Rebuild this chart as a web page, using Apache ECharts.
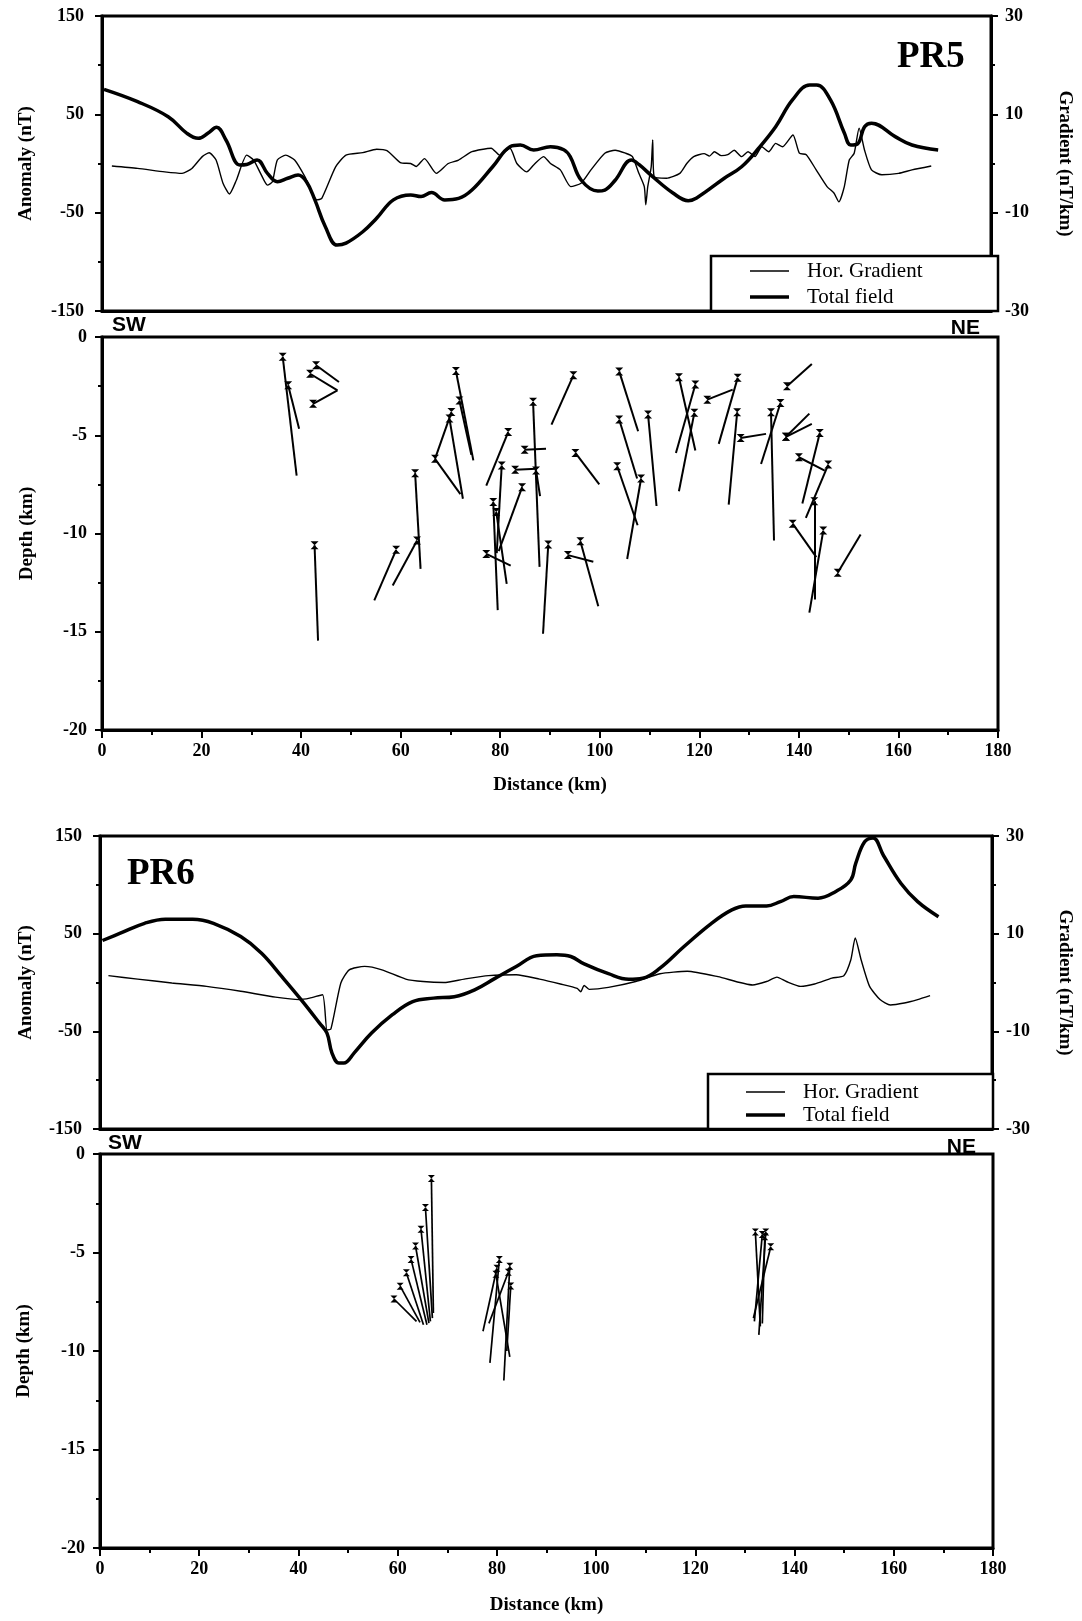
<!DOCTYPE html>
<html>
<head>
<meta charset="utf-8">
<script src="https://cdn.jsdelivr.net/npm/echarts@6/dist/echarts.min.js"></script>
<style>
html,body{margin:0;padding:0;background:#fff;}
#chart{width:1082px;height:1621px;}
</style>
</head>
<body>
<div id="chart"></div>
<script>
// ---------- DATA ----------
const distanceRange = [0, 180];
const distanceTickStep = 20;
const anomalyRange = [-150, 150];
const anomalyTickStep = 100;
const gradientRange = [-30, 30];
const gradientTickStep = 20;
const depthRange = [-20, 0];
const depthTickStep = 5;

const legendNames = ['Hor. Gradient', 'Total field'];
const profileNames = ['PR5', 'PR6'];

// PR5 total field [km, nT]
const pr5TotalField = [[0.4,75.4],[7.2,62.9],[13.4,47.6],[17.2,30.7],[19.5,25.6],[21.5,31],[23.2,36.8],[25.1,23.9],[27.9,-1.5],[29.3,-1],[31.4,3.6],[33.5,-10],[35.5,-18.5],[37.6,-15],[39.7,-11.7],[41.4,-18.5],[43.1,-37],[45.2,-64],[47.6,-83],[49.4,-81],[52.8,-69.4],[55.6,-55.7],[59,-37],[62.5,-32],[64.6,-33.6],[66.7,-29.6],[69.4,-37],[72.2,-35.5],[74.9,-27],[79.1,-3.3],[82.6,17],[84.7,18.8],[87.4,13.7],[90.8,17],[93.5,14],[94.8,7],[97,-16.8],[100.4,-28],[101.8,-27],[103.9,-17],[107.2,3.6],[108.7,-1],[111.5,-13.4],[115.6,-30],[118.7,-37.8],[120.4,-35],[126,-15],[129.5,-3.3],[133,15.8],[136.4,37.4],[139.8,64.6],[143.3,79.8],[144.7,79.8],[147.5,64.6],[150.3,31],[151.6,18.8],[153,20],[154.4,37.4],[155.8,41],[160.6,27.3],[164,18.8],[169.3,13.7]];

// PR5 horizontal gradient [km, nT/km]
const pr5Gradient = [[2,-0.5],[7.2,-1],[12.7,-1.7],[16.2,-2],[18.2,-1],[20.3,1.4],[21.7,2.2],[23.1,0.7],[24.5,-4],[25.8,-6.2],[27.2,-3.4],[29.3,1.7],[30.7,0.7],[32.1,-2],[33.5,-4.4],[34.5,-3.7],[35.5,0.7],[37.2,1.7],[39,0.7],[41.1,-2.7],[43.5,-7.4],[44.5,-7.1],[47.3,-0.7],[49.4,1.7],[52.8,2.2],[55.6,2.9],[57.7,2.6],[60.4,0.2],[62.5,0],[63.6,-0.6],[65.3,1],[67.7,-2],[70.1,0],[72.2,0.7],[74.9,2.4],[78.8,3.1],[80.5,1.7],[82.6,3.1],[84,0],[86,-1.7],[87.4,-0.3],[89.4,1.4],[90.8,0],[92.8,-1.3],[94.9,-4.7],[97,-4],[99,-1.3],[101.8,2.1],[103.9,2.7],[106,2.1],[107.4,1.4],[108.7,-2],[109.8,-4.7],[110.1,-8.4],[110.5,-4.7],[111.2,-0.7],[111.5,4.8],[111.8,-2.7],[114.3,-3],[117,-2],[118.4,0],[119.8,1.4],[121.9,2],[123,1.5],[124,2.4],[125.4,1.6],[126.7,1.8],[128,2.7],[129.5,1.4],[130.8,2.4],[132.2,1.4],[133.6,3.4],[135,2.4],[136.4,4.1],[137.8,3.4],[139.9,5.8],[141.2,2.1],[142.6,1.8],[144.6,-1.3],[146.8,-4.7],[148.2,-6],[149.2,-7.8],[150.3,-4.7],[151.3,0.7],[152.3,2.1],[153.3,7.2],[154.4,2.7],[155.8,-1.3],[157.9,-2.3],[161.3,-2],[164,-1.3],[167.9,-0.5]];

// PR5 Euler solutions: marker (top) point and line end point [km, depth km]
const pr5SolutionTops = [[36.3,-1.0],[37.4,-2.46],[43.0,-1.44],[41.8,-1.87],[42.4,-3.4],[42.7,-10.6],[59.1,-10.83],[63.3,-10.36],[62.9,-6.93],[71.1,-1.73],[71.8,-3.23],[70.2,-3.82],[66.9,-6.2],[69.8,-4.15],[81.6,-4.84],[80.3,-6.54],[78.6,-8.4],[79.2,-8.9],[84.4,-7.64],[77.2,-11.04],[83.0,-6.76],[84.9,-5.74],[86.6,-3.3],[87.2,-6.8],[89.65,-10.56],[94.7,-1.95],[103.9,-1.75],[95.1,-5.9],[103.9,-4.2],[108.3,-7.2],[109.7,-3.95],[103.5,-6.58],[93.6,-11.1],[96.1,-10.39],[115.9,-2.05],[119.2,-2.42],[119.0,-3.86],[127.7,-2.08],[121.6,-3.19],[127.6,-3.83],[128.3,-5.14],[134.4,-3.83],[136.3,-3.36],[137.6,-2.51],[137.4,-5.08],[137.4,-5.08],[144.2,-4.88],[140.0,-6.12],[145.9,-6.49],[143.1,-8.36],[138.75,-9.5],[144.9,-9.85],[147.8,-12.0]];
const pr5SolutionEnds = [[39.1,-7.05],[39.6,-4.67],[47.6,-2.29],[47.3,-2.72],[47.3,-2.72],[43.4,-15.45],[54.7,-13.4],[58.4,-12.65],[64.0,-11.8],[74.6,-6.28],[74.2,-6.0],[66.9,-6.2],[72.0,-8.0],[72.5,-8.23],[77.2,-7.56],[79.3,-11.0],[79.5,-13.9],[81.3,-12.56],[79.7,-10.9],[82.1,-11.63],[87.3,-6.7],[89.2,-5.69],[87.9,-11.7],[88.0,-8.1],[88.6,-15.1],[90.3,-4.46],[107.7,-4.8],[99.9,-7.5],[107.5,-7.2],[105.5,-11.3],[111.4,-8.6],[107.6,-9.58],[98.7,-11.44],[99.7,-13.7],[119.2,-5.78],[115.3,-5.9],[115.9,-7.85],[123.9,-5.44],[126.7,-2.68],[125.9,-8.53],[133.4,-4.93],[135.0,-10.36],[132.4,-6.46],[142.6,-1.37],[142.1,-3.9],[142.6,-4.42],[140.7,-8.47],[145.2,-6.8],[141.4,-9.2],[143.1,-13.36],[143.5,-11.2],[142.1,-14.03],[152.4,-10.05]];

// PR6 total field [km, nT]
const pr6TotalField = [[0.5,43],[4.1,50.5],[9,60.6],[13.2,64.8],[18.7,64.8],[22.9,60.6],[28.4,47],[32.6,30],[36.7,6],[40.9,-19.5],[44.3,-41.6],[45.8,-51.8],[46.8,-72],[48.2,-82.4],[49.2,-82.4],[51.3,-72],[54.8,-51.8],[59,-33],[63.1,-19.5],[67.3,-16],[71.5,-14.5],[75.6,-7.5],[79.8,4.5],[84,16.3],[88.1,27.3],[92.2,28.3],[95,26.6],[97.7,19],[102.6,9],[106.7,3.4],[109.5,4.4],[113,14.7],[117.8,36.6],[123.4,60.6],[127.5,74.3],[130.3,78.4],[134.5,78.4],[137.3,82.8],[140,88],[144.9,86.3],[148.4,93],[151.5,105],[152.5,122],[154.3,144],[156,148],[158.1,130],[161.6,101.6],[165,82.8],[169.2,67.4]];

// PR6 horizontal gradient [km, nT/km]
const pr6Gradient = [[1.7,1.4],[7.6,0.7],[14.5,-0.1],[21.5,-0.8],[28.4,-1.8],[35.4,-3],[40.2,-3.5],[42.3,-3.2],[44.9,-2.5],[45.8,-9.7],[46.6,-9.5],[48.6,-0.1],[50.3,2.6],[53.4,3.3],[56.9,2.6],[61.7,0.7],[65.2,0.2],[69.4,0],[73.5,0.7],[78.4,1.4],[84,1.6],[88.7,0.7],[92.9,-0.3],[96.3,-1.2],[97,-1.9],[97.7,-0.6],[98.7,-1.4],[102.6,-1],[108.1,0.2],[113,1.8],[118.5,2.3],[124.7,1.2],[131.7,-0.5],[134.5,0.2],[136.6,1.1],[138.5,0.2],[141.4,-0.8],[144.2,-0.3],[147.7,0.9],[150.1,1.4],[151.5,4.6],[152.4,9.1],[153.6,4.6],[155.3,-0.8],[157.4,-3.5],[159.5,-4.6],[162.3,-4.2],[165,-3.5],[167.5,-2.7]];

// PR6 Euler solutions
const pr6SolutionTops = [[66.8,-1.24],[65.6,-2.72],[64.7,-3.82],[63.6,-4.67],[62.7,-5.35],[61.75,-6.03],[60.5,-6.71],[59.25,-7.36],[80.5,-5.35],[80.0,-5.8],[79.8,-6.1],[82.6,-5.7],[82.3,-6.0],[82.8,-6.7],[132.1,-3.96],[133.5,-4.08],[134.2,-3.96],[135.2,-4.71],[134.0,-4.2]];
const pr6SolutionEnds = [[67.2,-8.07],[67.0,-8.33],[66.6,-8.5],[66.3,-8.58],[65.9,-8.67],[65.2,-8.67],[64.5,-8.55],[63.8,-8.5],[78.6,-10.6],[77.2,-9.0],[82.6,-10.3],[81.4,-11.5],[78.4,-8.6],[82.0,-10.0],[133.1,-8.75],[131.9,-8.5],[132.8,-9.18],[131.7,-8.33],[133.5,-8.6]];

// ---------- STYLE ----------
const SERIF = 'Liberation Serif';
const SANS = 'Liberation Sans';
const BLACK = '#000';
const HOURGLASS = 'path://M0,0L10,0L0,10L10,10Z';

const gridsPx = [
  {left:102, right:84, top:16, height:295},
  {left:102, right:84, top:337, height:393},
  {left:100, right:89, top:836, height:293},
  {left:100, right:89, top:1154, height:394}
];

function tickLabelStyle(){
  return {color:BLACK, fontFamily:SERIF, fontWeight:'bold', fontSize:18};
}
function nameStyle(){
  return {color:BLACK, fontFamily:SERIF, fontWeight:'bold', fontSize:19};
}
function anomalyXAxis(gi){
  return {type:'value', gridIndex:gi, min:distanceRange[0], max:distanceRange[1],
    axisLine:{show:true, onZero:false, lineStyle:{color:BLACK, width:3}},
    axisTick:{show:false}, axisLabel:{show:false}, splitLine:{show:false}};
}
function depthXAxis(gi, gap){
  return {type:'value', gridIndex:gi, min:distanceRange[0], max:distanceRange[1], interval:distanceTickStep,
    name:'Distance (km)', nameLocation:'middle', nameGap:gap, nameTextStyle:nameStyle(),
    axisLine:{show:true, onZero:false, lineStyle:{color:BLACK, width:3}},
    axisTick:{show:true, inside:false, length:8, lineStyle:{color:BLACK, width:2}},
    minorTick:{show:true, splitNumber:2, length:5, lineStyle:{color:BLACK, width:2}},
    axisLabel:Object.assign({margin:12}, tickLabelStyle()),
    splitLine:{show:false}, minorSplitLine:{show:false}};
}
function yAxisDef(gi, range, step, pos, name, gap, rot, margin){
  return {type:'value', gridIndex:gi, position:pos, min:range[0], max:range[1], interval:step,
    name:name, nameLocation:'middle', nameGap:gap, nameRotate:rot, nameTextStyle:nameStyle(),
    axisLine:{show:true, onZero:false, lineStyle:{color:BLACK, width:3}},
    axisTick:{show:true, inside:false, length:7, lineStyle:{color:BLACK, width:2}},
    minorTick:{show:true, splitNumber:2, length:4, lineStyle:{color:BLACK, width:2}},
    axisLabel:Object.assign({margin:margin}, tickLabelStyle()),
    splitLine:{show:false}, minorSplitLine:{show:false}};
}

function segmentData(tops, ends){
  return tops.map((t,i)=>({coords:[t, ends[i]]}));
}

function legendGraphics(box, yThin, yThick, x1, x2, tx){
  return [
    {type:'rect', z:100, shape:{x:box[0], y:box[1], width:box[2], height:box[3]},
      style:{fill:'#fff', stroke:BLACK, lineWidth:2.5}},
    {type:'line', z:101, shape:{x1:x1, y1:yThin, x2:x2, y2:yThin}, style:{stroke:BLACK, lineWidth:1.3}},
    {type:'line', z:101, shape:{x1:x1, y1:yThick, x2:x2, y2:yThick}, style:{stroke:BLACK, lineWidth:3.5}},
    {type:'text', z:101, x:tx, y:yThin, style:{text:legendNames[0], font:'21px "'+SERIF+'"', fill:BLACK, align:'left', verticalAlign:'middle'}},
    {type:'text', z:101, x:tx, y:yThick, style:{text:legendNames[1], font:'21px "'+SERIF+'"', fill:BLACK, align:'left', verticalAlign:'middle'}}
  ];
}
function txt(t, x, y, font, align){
  return {type:'text', z:101, x:x, y:y, style:{text:t, font:font, fill:BLACK, align:align||'left', verticalAlign:'middle'}};
}

const chart = echarts.init(document.getElementById('chart'), null, {renderer:'canvas'});
const option = {
  animation:false,
  backgroundColor:'#fff',
  grid: gridsPx.map(g=>Object.assign({show:true, borderColor:BLACK, borderWidth:3, backgroundColor:'transparent'}, g)),
  xAxis:[anomalyXAxis(0), depthXAxis(1, 46), anomalyXAxis(2), depthXAxis(3, 48)],
  yAxis:[
    yAxisDef(0, anomalyRange, anomalyTickStep, 'left', 'Anomaly (nT)', 66, 90, 18),
    yAxisDef(0, gradientRange, gradientTickStep, 'right', 'Gradient (nT/km)', 64, -90, 14),
    yAxisDef(1, depthRange, depthTickStep, 'left', 'Depth (km)', 65, 90, 15),
    yAxisDef(2, anomalyRange, anomalyTickStep, 'left', 'Anomaly (nT)', 64, 90, 18),
    yAxisDef(2, gradientRange, gradientTickStep, 'right', 'Gradient (nT/km)', 63, -90, 14),
    yAxisDef(3, depthRange, depthTickStep, 'left', 'Depth (km)', 66, 90, 15)
  ],
  series:[
    {name:legendNames[0], type:'line', xAxisIndex:0, yAxisIndex:1, data:pr5Gradient, showSymbol:false, symbol:'none',
      lineStyle:{color:BLACK, width:1.4}, smooth:0.2},
    {name:legendNames[1], type:'line', xAxisIndex:0, yAxisIndex:0, data:pr5TotalField, showSymbol:false, symbol:'none',
      lineStyle:{color:BLACK, width:3.5}, smooth:0.4},
    {type:'lines', coordinateSystem:'cartesian2d', xAxisIndex:1, yAxisIndex:2, data:segmentData(pr5SolutionTops, pr5SolutionEnds),
      lineStyle:{color:BLACK, width:2, opacity:1}, silent:true},
    {type:'scatter', xAxisIndex:1, yAxisIndex:2, data:pr5SolutionTops, symbol:HOURGLASS, symbolSize:[8,8],
      itemStyle:{color:BLACK, opacity:1}, silent:true},
    {name:legendNames[0], type:'line', xAxisIndex:2, yAxisIndex:4, data:pr6Gradient, showSymbol:false, symbol:'none',
      lineStyle:{color:BLACK, width:1.4}, smooth:0.2},
    {name:legendNames[1], type:'line', xAxisIndex:2, yAxisIndex:3, data:pr6TotalField, showSymbol:false, symbol:'none',
      lineStyle:{color:BLACK, width:3.5}, smooth:0.4},
    {type:'lines', coordinateSystem:'cartesian2d', xAxisIndex:3, yAxisIndex:5, data:segmentData(pr6SolutionTops, pr6SolutionEnds),
      lineStyle:{color:BLACK, width:1.7, opacity:1}, silent:true},
    {type:'scatter', xAxisIndex:3, yAxisIndex:5, data:pr6SolutionTops, symbol:HOURGLASS, symbolSize:[7,7],
      itemStyle:{color:BLACK, opacity:1}, silent:true}
  ],
  graphic:[].concat(
    legendGraphics([711,256,287,55], 271, 297, 750, 789, 807),
    legendGraphics([708,1074,285,55], 1092, 1115, 746, 785, 803),
    [
      txt(profileNames[0], 897, 57, 'bold 37px "'+SERIF+'"'),
      txt(profileNames[1], 127, 874, 'bold 37px "'+SERIF+'"'),
      txt('SW', 112, 325, 'bold 21px "'+SANS+'"'),
      txt('NE', 980, 328, 'bold 21px "'+SANS+'"', 'right'),
      txt('SW', 108, 1143, 'bold 21px "'+SANS+'"'),
      txt('NE', 976, 1147, 'bold 21px "'+SANS+'"', 'right')
    ]
  )
};
chart.setOption(option);
</script>
</body>
</html>
